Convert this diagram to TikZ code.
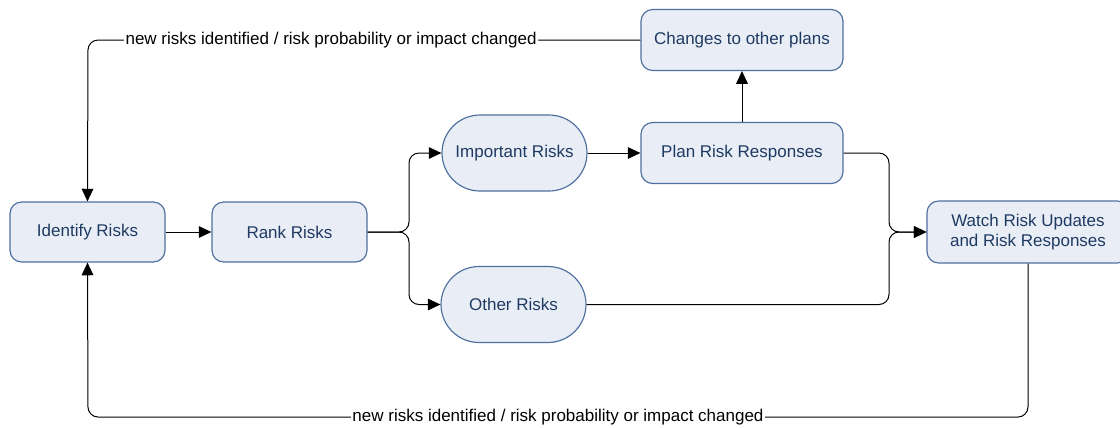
\documentclass[tikz,border=0pt]{standalone}
\usepackage{fontspec}
\setmainfont{Liberation Sans}
\usetikzlibrary{arrows.meta}
\definecolor{boxfill}{HTML}{E9EEF6}
\definecolor{boxline}{HTML}{4F6F9F}
\definecolor{boxtext}{HTML}{1F3A62}
\tikzset{
    stepbox/.style={draw=boxline, fill=boxfill, text=boxtext, line width=0.7pt, rounded corners=7pt,
        minimum width=93pt, minimum height=36pt, inner sep=0pt, align=center, font=\fontsize{10.2pt}{12pt}\selectfont},
    widebox/.style={stepbox, minimum width=121.2pt, minimum height=36.6pt},
    riskpill/.style={stepbox, rounded corners=22.8pt, minimum width=87pt, minimum height=45.6pt},
    arr/.style={-{Triangle[length=7.6pt,width=7pt]}, line width=0.6pt, rounded corners=6pt},
    loopnote/.style={fill=white, inner sep=1pt, font=\fontsize{10.2pt}{12pt}\selectfont}
}
\begin{document}
\begin{tikzpicture}[x=0.6pt, y=-0.6pt]
    \useasboundingbox (0,0) rectangle (1120,427);
    % boxes
    \node[stepbox] (ident) at (87.5,232) {Identify Risks};
    \node[stepbox] (rank) at (289.5,232) {Rank Risks};
    \node[riskpill] (imp) at (514.5,153) {Important Risks};
    \node[riskpill] (other) at (513.5,304.5) {Other Risks};
    \node[widebox] (plan) at (742,153) {Plan Risk Responses};
    \node[widebox] (changes) at (742,40) {Changes to other plans};
    \node[widebox, minimum height=37.2pt] (watch) at (1028,232) {Watch Risk Updates\\and Risk Responses};
    % connectors
    \draw[arr] (ident) -- (rank);
    \draw[arr] (rank.east) -- (409,232) -- (409,153) -- (imp.west);
    \draw[arr] (rank.east) -- (409,232) -- (409,304.5) -- (other.west);
    \draw[arr] (imp) -- (plan);
    \draw[arr] (plan) -- (changes);
    \draw[arr] (plan.east) -- (889,153) -- (889,232) -- (watch.west);
    \draw[arr] (other.east) -- (889,304.5) -- (889,232) -- (watch.west);
    % feedback loops
    \draw[arr] (changes.west) -- node[loopnote, pos=0.56] {new risks identified / risk probability or impact changed} (88,40) -- (ident.north);
    \draw[arr] (watch.south) -- (1028,417) -- node[loopnote] {new risks identified / risk probability or impact changed} (88,417) -- (ident.south);
\end{tikzpicture}
\end{document}
